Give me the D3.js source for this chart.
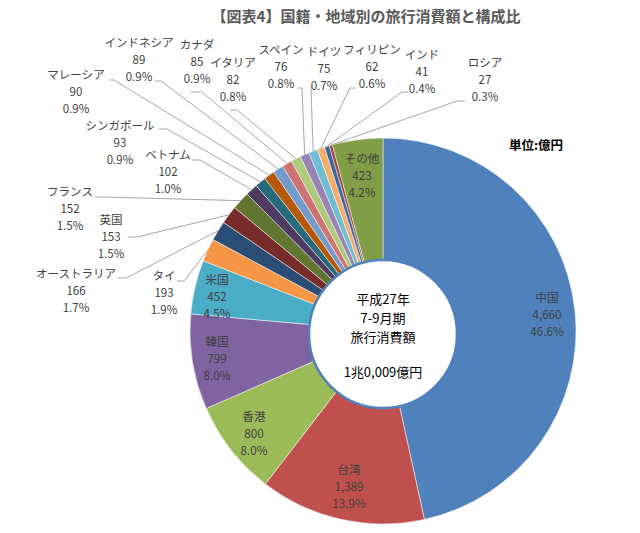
<!DOCTYPE html>
<html><head><meta charset="utf-8">
<script src="https://cdn.jsdelivr.net/npm/d3@7/dist/d3.min.js"></script>
<style>
html,body{margin:0;padding:0;background:#fff;}
text{font-family:"Noto Sans CJK JP","Noto Sans",sans-serif;}
</style></head>
<body>
<svg id="chart" width="640" height="533"></svg>
<script>
// ---- data ----
const categories = ["中国","台湾","香港","韓国","米国","タイ","オーストラリア","英国","フランス","ベトナム","シンガポール","マレーシア","インドネシア","カナダ","イタリア","スペイン","ドイツ","フィリピン","インド","ロシア","その他"];
const values = [4660,1389,800,799,452,193,166,153,152,102,93,90,89,85,82,76,75,62,41,27,423];
const valueLabels = ["4,660","1,389","800","799","452","193","166","153","152","102","93","90","89","85","82","76","75","62","41","27","423"];
const percentLabels = ["46.6%","13.9%","8.0%","8.0%","4.5%","1.9%","1.7%","1.5%","1.5%","1.0%","0.9%","0.9%","0.9%","0.9%","0.8%","0.8%","0.7%","0.6%","0.4%","0.3%","4.2%"];
const titleText = "【図表4】国籍・地域別の旅行消費額と構成比";
const unitText = "単位:億円";
const centerLines = ["平成27年","7-9月期","旅行消費額","","1兆0,009億円"];

// ---- style / layout ----
const colors = ["#4F81BD","#C0504D","#9BBB59","#8064A2","#4BACC6","#F79646","#2C4D75","#772C2A","#5F7530","#4D3B62","#276A7C","#B65708","#729ACA","#CD7371","#AFC97A","#9983B5","#6FBDD1","#F9AB6B","#3A679C","#9F413E","#7F9E46"];
// label layout: [cx, cy of first line, inside?, leader start x, leader start y, elbow x]
const labelLayout = [
  [547,298,true],
  [349,470,true],
  [254,417,true],
  [217,342,true],
  [217,280,true],
  [164,276,false,177,281,184],
  [76,274,false,118,278,126],
  [111,220,false,128,237,137],
  [70,192,false,95,197,103],
  [168,155,false,192,160,200],
  [120,126,false,159,129,167],
  [76,75,false,109,80,114],
  [139,43,false,155,81,161],
  [197,45,false,191,92,202],
  [233,63,false,230,110,237],
  [281,50,false,297,88,302],
  [324,52,false,311,87,311],
  [372,50,false,356,88,350],
  [422,55,false,408,92,402],
  [485,63,false,465,101,457],
  [362,159,true]
];

const cx = 383, cy = 331, rOuter = 193, rInner = 70;
const svg = d3.select("#chart");
svg.append("rect").attr("width",640).attr("height",533).attr("fill","#fff");

const pie = d3.pie().sort(null).value(d => d).startAngle(0).endAngle(2*Math.PI);
const arcs = pie(values);
const arc = d3.arc().innerRadius(rInner).outerRadius(rOuter);

const g = svg.append("g").attr("transform",`translate(${cx},${cy})`);
g.selectAll("path.slice").data(arcs).enter().append("path")
  .attr("class","slice")
  .attr("d",arc)
  .attr("fill",(d,i)=>colors[i])
  .attr("stroke","#fff").attr("stroke-width",0.5);

// leader lines
const outerPt = a => {
  const m = (a.startAngle + a.endAngle)/2;
  return [cx + rOuter*Math.sin(m), cy - rOuter*Math.cos(m)];
};
const leaders = arcs.map((a,i)=>({a,i,L:labelLayout[i]})).filter(d=>!d.L[2]);
svg.selectAll("polyline.leader").data(leaders).enter().append("polyline")
  .attr("class","leader")
  .attr("points",d=>{
    const p = outerPt(d.a);
    return [[d.L[3],d.L[4]],[d.L[5],d.L[4]],p].map(q=>q.join(",")).join(" ");
  })
  .attr("fill","none").attr("stroke","#A6A6A6").attr("stroke-width",1);

// labels
const lab = svg.selectAll("g.lab").data(arcs).enter().append("g").attr("class","lab");
lab.each(function(d,i){
  const L = labelLayout[i];
  const inside = L[2];
  const fs = inside ? 11.7 : 11.5;
  const lh = 17;
  const lines = [categories[i], valueLabels[i], percentLabels[i]];
  lines.forEach((t,k)=>{
    d3.select(this).append("text")
      .attr("x",L[0]).attr("y",L[1]+k*lh)
      .attr("dy","0.35em")
      .attr("text-anchor","middle")
      .attr("font-size",fs)
      .attr("fill","#404040")
      .text(t);
  });
});

// center circle
svg.append("circle").attr("cx",cx).attr("cy",334).attr("r",74)
  .attr("fill","#fff").attr("stroke","#4F81BD").attr("stroke-width",2.5);
const cyLines = [299,318,337,355,372];
centerLines.forEach((t,k)=>{
  if(!t) return;
  svg.append("text").attr("x",cx).attr("y",cyLines[k]).attr("dy","0.35em")
    .attr("text-anchor","middle").attr("font-size",13).attr("fill","#000").text(t);
});

// title and unit
svg.append("text").attr("x",366).attr("y",17).attr("dy","0.35em")
  .attr("text-anchor","middle").attr("font-size",15).attr("font-weight","bold")
  .attr("fill","#595959").text(titleText);
svg.append("text").attr("x",536).attr("y",146).attr("dy","0.35em")
  .attr("text-anchor","middle").attr("font-size",12.5).attr("font-weight","bold")
  .attr("fill","#000").text(unitText);
</script>
</body></html>
